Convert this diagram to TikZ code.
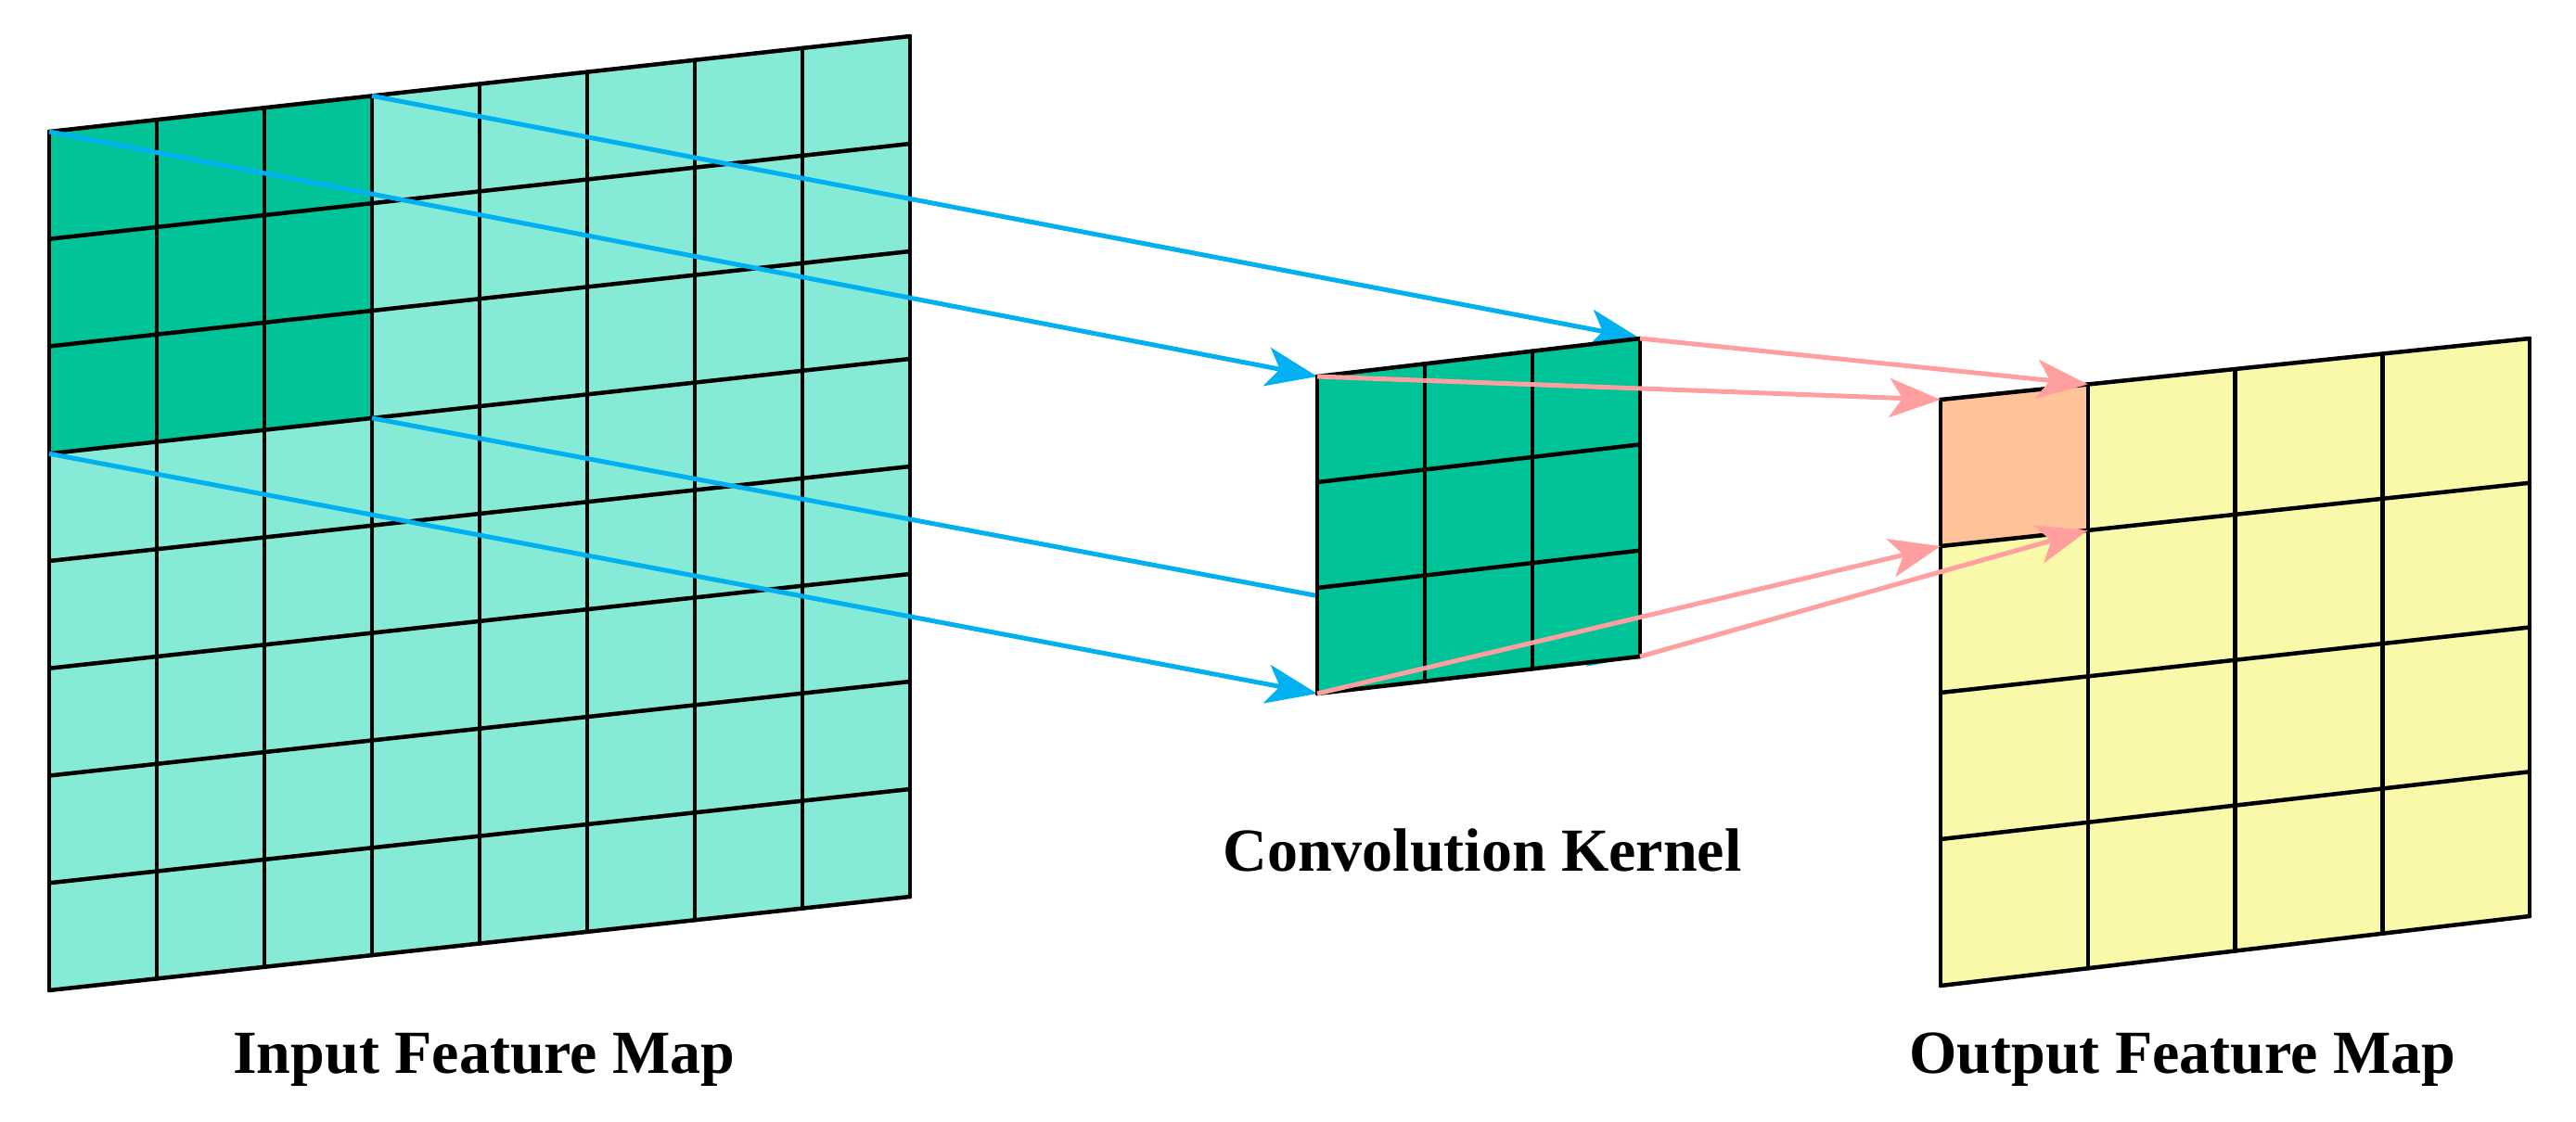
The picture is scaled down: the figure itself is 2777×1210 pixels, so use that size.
\documentclass[tikz,border=0pt]{standalone}
\usepackage{fontspec}
\setmainfont{Liberation Serif}
\usetikzlibrary{calc,arrows.meta}
\definecolor{lg}{HTML}{86EBD6}
\definecolor{dg}{HTML}{00C497}
\definecolor{yl}{HTML}{F9F9A9}
\definecolor{og}{HTML}{FFC299}
\definecolor{bl}{HTML}{00B0F0}
\definecolor{pk}{HTML}{FF9F9F}
\tikzset{
  gridln/.style={line width=4.5pt,black,line cap=round},
  blarr/.style={line width=5pt,bl,-{Stealth[length=55pt,width=42pt,inset=14pt]}},
  pkarr/.style={line width=5pt,pk,-{Stealth[length=55pt,width=42pt,inset=14pt]}},
  lbl/.style={font=\bfseries\fontsize{66}{70}\selectfont}
}
\newcommand{\setpt}[4]{%
  \coordinate (tmpL) at ($(#1TL)!#3!(#1BL)$);
  \coordinate (tmpR) at ($(#1TR)!#3!(#1BR)$);
  \coordinate (#4) at ($(tmpL)!#2!(tmpR)$);}
\newcommand{\mygrid}[2]{%
  \foreach \i in {0,...,#2}{
    \draw[gridln] ($(#1TL)!\i/#2!(#1TR)$) -- ($(#1BL)!\i/#2!(#1BR)$);
    \draw[gridln] ($(#1TL)!\i/#2!(#1BL)$) -- ($(#1TR)!\i/#2!(#1BR)$);
  }}
\begin{document}
\begin{tikzpicture}[x=1pt,y=-1pt]
\useasboundingbox (0,0) rectangle (2777,1210);
% input map
\coordinate (iTL) at (53,142); \coordinate (iTR) at (981,39);
\coordinate (iBL) at (53,1068); \coordinate (iBR) at (981,967);
\fill[lg] (iTL)--(iTR)--(iBR)--(iBL)--cycle;
\setpt{i}{0}{0}{a1}
\setpt{i}{0.375}{0}{a2}
\setpt{i}{0}{0.375}{a3}
\setpt{i}{0.375}{0.375}{a4}
\fill[dg] (a1) -- (a2) -- (a4) -- (a3) -- cycle;
\mygrid{i}{8}
% kernel corners
\coordinate (kTL) at (1420,406); \coordinate (kTR) at (1768,365);
\coordinate (kBL) at (1420,748); \coordinate (kBR) at (1768,708);
\draw[blarr] (a1) -- (kTL);
\draw[blarr] (a2) -- (kTR);
\draw[blarr] (a3) -- (kBL);
\draw[blarr] (a4) -- (kBR);
% kernel
\fill[dg] (kTL)--(kTR)--(kBR)--(kBL)--cycle;
\mygrid{k}{3}
% output
\coordinate (oTL) at (2092,431); \coordinate (oTR) at (2727,365);
\coordinate (oBL) at (2092,1063); \coordinate (oBR) at (2727,988);
\fill[yl] (oTL)--(oTR)--(oBR)--(oBL)--cycle;
\setpt{o}{0}{0}{b1}
\setpt{o}{0.25}{0}{b2}
\setpt{o}{0}{0.25}{b3}
\setpt{o}{0.25}{0.25}{b4}
\fill[og] (b1) -- (b2) -- (b4) -- (b3) -- cycle;
\mygrid{o}{4}
\draw[pkarr] (kTL) -- (b1);
\draw[pkarr] (kTR) -- (b2);
\draw[pkarr] (kBL) -- (b3);
\draw[pkarr] (kBR) -- (b4);
% labels
\node[lbl] (l1) at (522,1143) {Input Feature Map};
\node[lbl] (l2) at (1598,917) {Convolution Kernel};
\node[lbl] (l3) at (2353,1143) {Output Feature Map};
\end{tikzpicture}
\end{document}
